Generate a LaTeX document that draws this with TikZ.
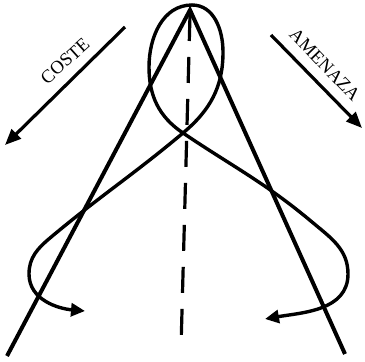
\documentclass[tikz,border=0pt]{standalone}
\usepackage{fontspec}
\setmainfont{Liberation Serif}
\usetikzlibrary{arrows.meta}
\begin{document}
\begin{tikzpicture}[x=1pt,y=1pt,
  heavy/.style={line width=4pt},
  curve/.style={line width=3.4pt, line cap=round},
  dashline/.style={line width=3.2pt, dash pattern=on 26pt off 16pt},
  bigarrow/.style={line width=3.2pt, -{Triangle[length=16pt,width=13pt]}},
  curvearrow/.style={curve, -{Triangle[length=14pt,width=13pt]}},
  lbl/.style={font=\fontsize{18.5}{19}\selectfont, inner sep=0pt}]
\useasboundingbox (0,0) rectangle (365,362);
% key points
\coordinate (apex) at (190,352);
\coordinate (lbot) at (7,6);
\coordinate (rbot) at (345,8);
\coordinate (dtop) at (190,347);
\coordinate (dbot) at (181,14);
\coordinate (T) at (192,357);
\coordinate (L1) at (149,295);
\coordinate (R1) at (223,310);
\coordinate (C) at (183,229);
\coordinate (rv) at (312,140);
\coordinate (rmax) at (348,88);
\coordinate (rtip) at (265,43);
\coordinate (lv) at (50,124);
\coordinate (lmax) at (29,88);
\coordinate (ltip) at (85,51);
\coordinate (cs) at (125,335);
\coordinate (ce) at (5,217);
\coordinate (as) at (271,327);
\coordinate (ae) at (362,234);
% straight lines
\draw[heavy] (lbot) -- (apex) -- (rbot);
\draw[dashline] (dtop) -- (dbot);
% looping curve
\draw[curvearrow] (T) to[out=180,in=90] (L1) to[out=270,in=146] (C)
  to[out=-34,in=140] (rv) to[out=-40,in=90] (rmax) to[out=270,in=10] (rtip);
\draw[curvearrow] (T) to[out=0,in=90] (R1) to[out=270,in=40] (C)
  to[out=220,in=40] (lv) to[out=220,in=90] (lmax) to[out=270,in=175] (ltip);
% direction arrows
\draw[bigarrow] (cs) -- (ce);
\draw[bigarrow] (as) -- (ae);
\node[lbl, rotate=42] (coste) at (65,301) {COSTE};
\node[lbl, rotate=-46] (amenaza) at (325,297) {AMENAZA};
\end{tikzpicture}
\end{document}
